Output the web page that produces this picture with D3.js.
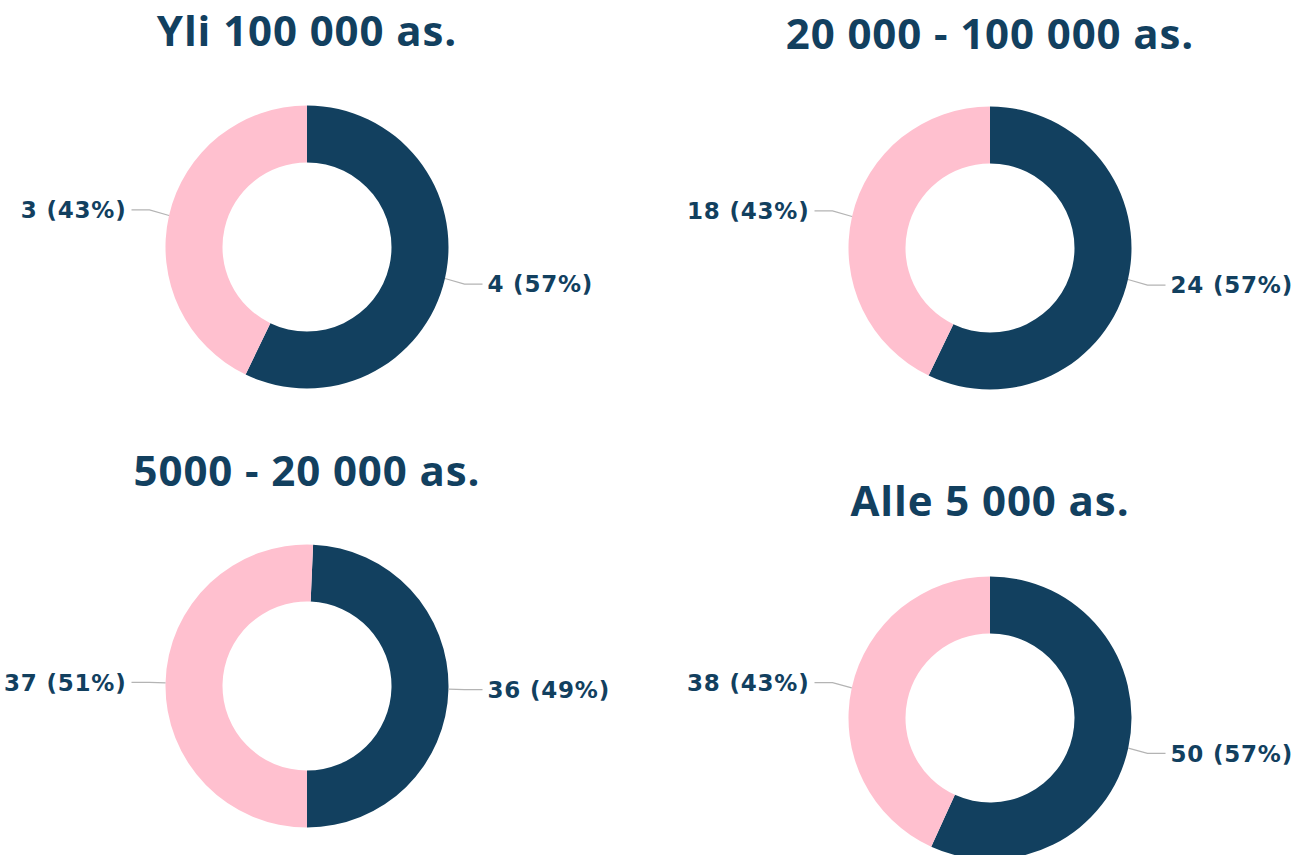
<!DOCTYPE html>
<html>
<head>
<meta charset="utf-8">
<script src="https://cdn.jsdelivr.net/npm/d3@7"></script>
<style>
  html, body { margin: 0; padding: 0; background: #fff; }
  svg { display: block; }
  text { font-weight: 700; }
  .title { font-family: "Open Sans", "Noto Sans", sans-serif; }
  .lbl { font-family: "DejaVu Sans", "Noto Sans", sans-serif; }
</style>
</head>
<body>
<svg id="chart" width="1297" height="855"></svg>
<script>
// Data
const titles = ["Yli 100 000 as.", "20 000 - 100 000 as.", "5000 - 20 000 as.", "Alle 5 000 as."];
const categories = ["A", "B"];           // dark slice, pink slice
const darkValues = [4, 24, 36, 50];
const pinkValues = [3, 18, 37, 38];
const colors = ["#12405f", "#ffc0cf"];

// Layout
const panels = [
  { cx: 307, cy: 247, ty: 46, endAtBottom: false },
  { cx: 990, cy: 248, ty: 49, endAtBottom: false },
  { cx: 307, cy: 686, ty: 486, endAtBottom: true },
  { cx: 990, cy: 718, ty: 516, endAtBottom: false }
];
const R = 141.5, r = 84.5;

const svg = d3.select("#chart");
const color = d3.scaleOrdinal().domain(categories).range(colors);
const arc = d3.arc().innerRadius(r).outerRadius(R);

titles.forEach((t, i) => {
  const p = panels[i];
  const data = [
    { cat: categories[0], value: darkValues[i] },
    { cat: categories[1], value: pinkValues[i] }
  ];
  const total = d3.sum(data, d => d.value);
  const offset = p.endAtBottom ? Math.PI - 2 * Math.PI * data[0].value / total : 0;
  const pie = d3.pie().sort(null).value(d => d.value)
    .startAngle(offset).endAngle(offset + 2 * Math.PI);
  const g = svg.append("g");

  g.append("text")
    .attr("class", "title")
    .attr("x", p.cx).attr("y", p.ty)
    .attr("text-anchor", "middle")
    .attr("font-size", 42)
    .attr("letter-spacing", 0.9)
    .attr("fill", "#12405f")
    .text(t);

  const arcs = pie(data);
  const cg = g.append("g").attr("transform", `translate(${p.cx},${p.cy})`);
  cg.selectAll("path").data(arcs).enter().append("path")
    .attr("d", arc)
    .attr("fill", d => color(d.data.cat));

  arcs.forEach(a => {
    const mid = (a.startAngle + a.endAngle) / 2;
    const sx = Math.sin(mid), cy = -Math.cos(mid);
    const side = sx >= 0 ? 1 : -1;
    const x0 = sx * R, y0 = cy * R;
    const ly = cy * (R + 25);
    const ex = side * (R + 16);
    const lx = side * (R + 34);
    cg.append("polyline")
      .attr("points", `${x0},${y0} ${ex},${ly} ${lx},${ly}`)
      .attr("fill", "none")
      .attr("stroke", "#b4b4b4")
      .attr("stroke-width", 1.2);
    const pct = Math.round(a.data.value / total * 100);
    cg.append("text")
      .attr("class", "lbl")
      .attr("x", side * (R + 39))
      .attr("y", ly)
      .attr("dy", "0.36em")
      .attr("text-anchor", side > 0 ? "start" : "end")
      .attr("font-size", 23)
      .attr("letter-spacing", 0.8)
      .attr("fill", "#12405f")
      .text(`${a.data.value} (${pct}%)`);
  });
});
</script>
</body>
</html>
